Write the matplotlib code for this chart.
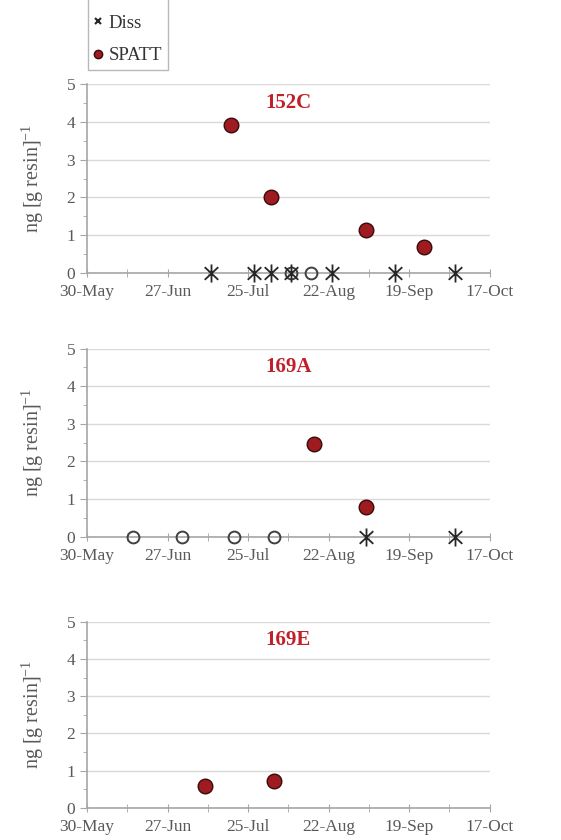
#!/usr/bin/env python3
"""
Toxin levels in dissolved samples and SPATT resin, three stations
"""
import datetime as dt

import matplotlib
matplotlib.use('Agg')
import matplotlib.dates as mdates
from matplotlib import pyplot as plt
from matplotlib.lines import Line2D
from matplotlib.path import Path

YEAR = 2015

# station names
stations = ['152C', '169A', '169E']

# SPATT resin results (date, ng per g resin)
spatt_dates = {
    '152C': ['07-19', '08-02', '09-04', '09-24'],
    '169A': ['08-17', '09-04'],
    '169E': ['07-10', '08-03'],
}
spatt_values = {
    '152C': [3.91, 2.00, 1.13, 0.69],
    '169A': [2.46, 0.80],
    '169E': [0.58, 0.72],
}

# dissolved samples with detections (plotted at zero)
diss_dates = {
    '152C': ['07-12', '07-27', '08-02', '08-09', '08-23', '09-14', '10-05'],
    '169A': ['09-04', '10-05'],
    '169E': [],
}

# samples not detected (open circles at zero)
nd_dates = {
    '152C': ['08-09', '08-16'],
    '169A': ['06-15', '07-02', '07-20', '08-03'],
    '169E': [],
}

x_start = '05-30'
x_end = '10-17'

RED = '#9e1b1f'
GRAY = '#595959'
SERIF = ['Liberation Serif', 'DejaVu Serif']

plt.rcParams['mathtext.fontset'] = 'custom'
plt.rcParams['mathtext.rm'] = 'Liberation Serif'
plt.rcParams['mathtext.it'] = 'Liberation Serif'
plt.rcParams['axes.unicode_minus'] = False

# Excel style star: X plus a vertical bar
STAR = Path([(0, -1), (0, 1), (-0.75, -0.7), (0.75, 0.7),
             (-0.75, 0.7), (0.75, -0.7)],
            [Path.MOVETO, Path.LINETO, Path.MOVETO, Path.LINETO,
             Path.MOVETO, Path.LINETO])


def to_date(s):
    m, d = s.split('-')
    return dt.date(YEAR, int(m), int(d))


def draw_panel(ax, name):
    # grid and axes look
    ax.set_ylim(0, 5)
    ax.set_xlim(to_date(x_start), to_date(x_end))
    ax.yaxis.grid(True, color='#d9d9d9', linewidth=1)
    ax.set_axisbelow(True)
    for side in ['top', 'right']:
        ax.spines[side].set_visible(False)
    for side in ['left', 'bottom']:
        ax.spines[side].set_color('#a6a6a6')
        ax.spines[side].set_linewidth(1.2)

    ticks = [to_date(x_start) + dt.timedelta(days=28 * i) for i in range(6)]
    minor = [to_date(x_start) + dt.timedelta(days=14 * i) for i in range(11)]
    ax.set_xticks(ticks)
    ax.set_xticks(minor, minor=True)
    ax.xaxis.set_major_formatter(mdates.DateFormatter('%d-%b'))
    ax.set_yticks(range(6))
    ax.set_yticks([i + 0.5 for i in range(5)], minor=True)
    ax.tick_params(axis='both', which='both', color='#a6a6a6', labelcolor=GRAY,
                   labelsize=12.5)
    ax.tick_params(axis='x', which='both', direction='inout', length=6, pad=5)
    ax.tick_params(axis='y', which='major', length=5)
    ax.tick_params(axis='y', which='minor', length=3)
    for lab in ax.get_xticklabels() + ax.get_yticklabels():
        lab.set_family(SERIF)

    ax.set_ylabel('ng [g resin]$^{-1}$', family=SERIF, fontsize=14.5,
                  color=GRAY, labelpad=15)

    # data
    nd = [to_date(s) for s in nd_dates[name]]
    ax.plot(nd, [0] * len(nd), linestyle='none', marker='o', markersize=8.5,
            markerfacecolor='none', markeredgecolor='#404040',
            markeredgewidth=1.4, clip_on=False, zorder=3)
    dd = [to_date(s) for s in diss_dates[name]]
    ax.plot(dd, [0] * len(dd), linestyle='none', marker=STAR,
            markersize=13, color='#262626', markeredgewidth=1.3,
            clip_on=False, zorder=4)
    sd = [to_date(s) for s in spatt_dates[name]]
    ax.plot(sd, spatt_values[name], linestyle='none', marker='o',
            markersize=10.5, markerfacecolor=RED, markeredgecolor='#3a0a0a',
            markeredgewidth=1.0, zorder=5)

    ax.text(0.5, 0.9, name, transform=ax.transAxes, ha='center', va='center',
            color='#c0202a', fontsize=15, fontweight='bold', family=SERIF)


def main():
    fig = plt.figure(figsize=(5.61, 8.4), dpi=100)
    boxes = [(0.675, 0.225), (0.361, 0.224), (0.038, 0.222)]
    for (bottom, height), name in zip(boxes, stations):
        ax = fig.add_axes([0.155, bottom, 0.718, height])
        draw_panel(ax, name)

    handles = [
        Line2D([], [], linestyle='none', marker='x', markersize=5,
               color='#262626', markeredgewidth=1.5),
        Line2D([], [], linestyle='none', marker='o', markersize=6,
               markerfacecolor=RED, markeredgecolor='#3a0a0a'),
    ]
    leg = fig.legend(handles, ['Diss', 'SPATT'], loc='lower left',
                     bbox_to_anchor=(0.157, 0.917), borderaxespad=0,
                     frameon=True, title=' ', title_fontsize=11,
                     prop={'family': SERIF, 'size': 13.5}, handlelength=0.5,
                     handletextpad=0.3, borderpad=0.3, labelspacing=0.8,
                     fancybox=False, edgecolor='#a6a6a6')
    leg.get_frame().set_linewidth(1.0)
    for t in leg.get_texts():
        t.set_color('#333333')

    fig.savefig('out.png', dpi=100)


if __name__ == '__main__':
    main()
